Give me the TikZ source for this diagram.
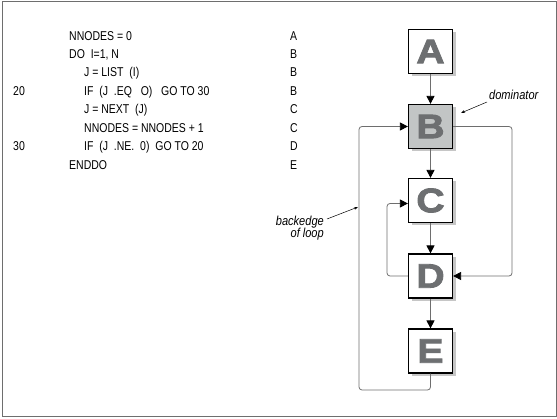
\documentclass[tikz,border=0pt]{standalone}
\usepackage{fontspec}
\setmainfont{Liberation Sans}
\newfontfamily\codefont[FakeStretch=0.82]{Liberation Sans}
\newfontfamily\notefont[FakeStretch=0.85]{Liberation Sans}
\newfontfamily\blkfont[FakeStretch=1.15,FakeBold=2.5]{Liberation Sans Bold}
\usetikzlibrary{positioning, arrows.meta, shadows, calc}

\definecolor{linegray}{HTML}{6E6E6E}
\definecolor{lettergray}{HTML}{6D6F71}
\definecolor{domgray}{HTML}{C2C5C5}

\tikzset{
    blk/.style={draw, line width=1.2pt, fill=white, minimum size=44pt, inner sep=0pt,
        font=\blkfont\fontsize{34}{34}\selectfont, text=lettergray,
        general shadow={fill=gray!45, shadow xshift=3pt, shadow yshift=-3pt}},
    conn/.style={linegray, line width=0.8pt, rounded corners=3pt,
        -{Triangle[length=8pt, width=8pt, color=black]}},
    note/.style={font=\notefont\itshape\fontsize{13}{13}\selectfont},
    noteline/.style={black, line width=0.5pt, -{Stealth[length=4pt, width=3pt]}},
    code/.style={anchor=base west, inner sep=0pt, font=\codefont\fontsize{12.8}{12.8}\selectfont}
}

\begin{document}
\begin{tikzpicture}[x=1pt, y=-1pt]
    \useasboundingbox (0,0) rectangle (557,419);
    \draw[linegray, line width=1pt] (2,2) rectangle (556,417);

    % Code
    \node[code] (l1) at (69,40.5) {NNODES = 0};
    \node[code] (l2) at (69,58.5) {DO\ \ I=1, N};
    \node[code] (l3) at (84,77) {J = LIST\ \ (I)};
    \node[code] (l4) at (84,95.5) {IF\ \ (J\ \ .EQ\ \ \ O)\ \ \ GO TO 30};
    \node[code] (l5) at (84,114) {J = NEXT\ \ (J)};
    \node[code] (l6) at (84,132.5) {NNODES = NNODES + 1};
    \node[code] (l7) at (84,151) {IF\ \ (J\ \ .NE.\ \ 0)\ \ GO TO 20};
    \node[code] (l8) at (69,169.5) {ENDDO};
    \node[code] (n20) at (13,95.5) {20};
    \node[code] (n30) at (13,151) {30};
    \node[code] (r1) at (290,40.5) {A};
    \node[code] (r2) at (290,58.5) {B};
    \node[code] (r3) at (290,77) {B};
    \node[code] (r4) at (290,95.5) {B};
    \node[code] (r5) at (290,114) {C};
    \node[code] (r6) at (290,132.5) {C};
    \node[code] (r7) at (290,151) {D};
    \node[code] (r8) at (290,169.5) {E};

    % Blocks
    \node[blk] (a) at (430.5,51.5) {A};
    \node[blk, fill=domgray] (b) at (430.5,126.5) {B};
    \node[blk] (c) at (430.5,200.5) {C};
    \node[blk] (d) at (430.5,276) {D};
    \node[blk] (e) at (430.5,351) {E};

    % Routing points
    \coordinate (rgt) at (512,0);
    \coordinate (inn) at (387,0);
    \coordinate (lft) at (359,390);

    % Arrows
    \draw[conn] (a) -- (b);
    \draw[conn] (b) -- (c);
    \draw[conn] (c) -- (d);
    \draw[conn] (d) -- (e);
    \draw[conn] (b.east) -- (b.east -| rgt) -- (d.east -| rgt) -- (d.east);
    \draw[conn] (d.west) -- (d.west -| inn) -- ([yshift=-3pt]c.west -| inn) -- ([yshift=-3pt]c.west);
    \draw[conn] (e.south) -- (e.south |- lft) -- (lft) -- (b.west -| lft) -- (b.west);

    % Notes
    \node[note, anchor=base west, inner sep=0pt] (dom) at (489,100) {dominator};
    \coordinate (domtip) at (461,113);
    \draw[noteline] ([xshift=-2pt, yshift=-2pt]dom.base west) -- (domtip);
    \node[note, align=right, anchor=north east, inner sep=0pt] (back) at (324,216) {backedge\\[-1pt]of loop};
    \coordinate (backtip) at (358,207);
    \draw[noteline] ([xshift=3pt, yshift=-3pt]back.north east) -- (backtip);
\end{tikzpicture}
\end{document}
